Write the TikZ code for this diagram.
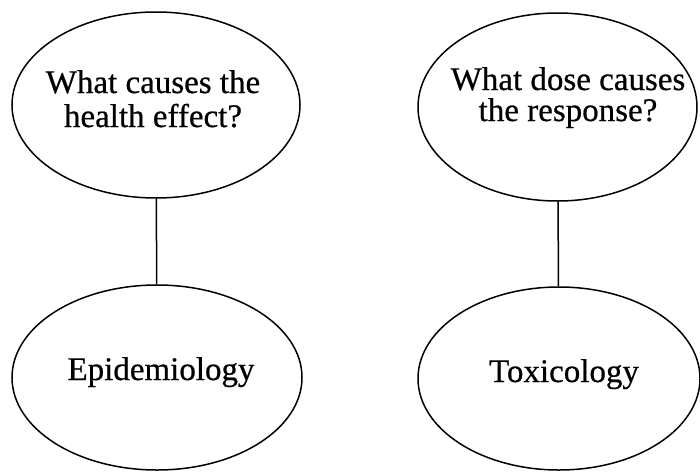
\documentclass[tikz,border=0pt]{standalone}
\usepackage{fontspec}
\setmainfont{Liberation Serif}[BoldFont={Liberation Serif}, BoldFeatures={FakeBold=0.6}]
\usetikzlibrary{shapes.geometric}

\begin{document}
\begin{tikzpicture}[
    x=1pt, y=-1pt,
    bubble/.style={draw, ellipse, line width=1.5pt, inner sep=0pt},
    label/.style={font=\bfseries\fontsize{33}{34}\selectfont, align=center, anchor=base, inner sep=0pt},
    link/.style={line width=1.5pt},
]
    \useasboundingbox (0,0) rectangle (700,471);

    % Left column: cause and the field that studies it
    \node[bubble, minimum width=288pt, minimum height=186pt] (cause) at (156,105) {};
    \node[bubble, minimum width=290pt, minimum height=185pt] (epi) at (157,377.5) {};
    \node[label] (causetxt) at (153,127) {What causes the\\health effect?};
    \node[label] (epitxt) at (161,380) {Epidemiology};
    \draw[link] (cause) -- (epi);

    % Right column: dose and response
    \node[bubble, minimum width=279pt, minimum height=188pt] (dose) at (557.5,107) {};
    \node[bubble, minimum width=282pt, minimum height=183pt] (tox) at (559,378.5) {};
    \node[label, font=\bfseries\fontsize{33}{31}\selectfont] (dosetxt) at (568,121) {What dose causes\\the response?};
    \node[label] (toxtxt) at (564,382) {Toxicology};
    \draw[link] (dose) -- (tox);
\end{tikzpicture}
\end{document}
